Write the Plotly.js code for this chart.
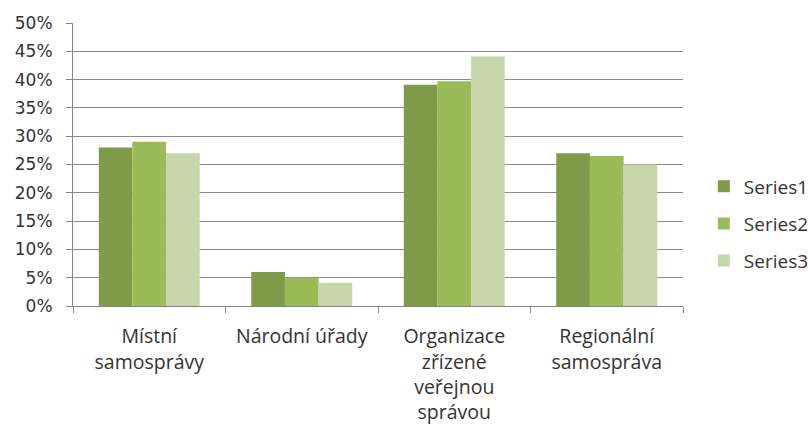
<!DOCTYPE html>
<html>
<head>
<meta charset="utf-8">
<script src="https://cdn.plot.ly/plotly-3.0.1.min.js"></script>
<style>html,body{margin:0;padding:0;background:#fff;}#chart{width:809px;height:424px;}</style>
</head>
<body>
<div id="chart"></div>
<script>
var categories = ["Místní<br>samosprávy", "Národní úřady", "Organizace<br>zřízené<br>veřejnou<br>správou", "Regionální<br>samospráva"];
var series1 = [0.28, 0.06, 0.391, 0.27];
var series2 = [0.29, 0.05, 0.397, 0.265];
var series3 = [0.27, 0.041, 0.441, 0.25];
var seriesNames = ["Series1", "Series2", "Series3"];
var colors = ["#7f9a48", "#9bbb59", "#c7d6aa"];
var yTickVals = [0, 0.05, 0.1, 0.15, 0.2, 0.25, 0.3, 0.35, 0.4, 0.45, 0.5];
var yTickText = ["0%", "5%", "10%", "15%", "20%", "25%", "30%", "35%", "40%", "45%", "50%"];

var allSeries = [series1, series2, series3];
var data = allSeries.map(function (vals, i) {
  return {
    type: "bar",
    x: categories,
    y: vals,
    name: seriesNames[i],
    legendgroup: "g" + i,
    marker: { color: colors[i], line: { width: 0 } },
    hoverinfo: "none"
  };
});

var layout = {
  width: 809,
  height: 424,
  margin: { l: 73, r: 126, t: 23, b: 118 },
  paper_bgcolor: "#ffffff",
  plot_bgcolor: "#ffffff",
  barmode: "group",
  bargap: 0.338,
  bargroupgap: 0,
  font: { family: "Open Sans, sans-serif", color: "#333333", size: 19 },
  xaxis: {
    type: "category",
    tickson: "boundaries",
    ticks: "outside",
    ticklen: 6,
    tickcolor: "#868686",
    showline: true,
    linecolor: "#868686",
    linewidth: 1,
    showgrid: false,
    zeroline: false,
    tickfont: { family: "Open Sans, sans-serif", size: 19.5, color: "#333333" },
    ticklabelstandoff: 13,
    fixedrange: true
  },
  yaxis: {
    range: [0, 0.5],
    tickvals: yTickVals,
    ticktext: yTickText,
    ticks: "outside",
    ticklen: 6,
    tickcolor: "#868686",
    showline: true,
    linecolor: "#868686",
    linewidth: 1,
    showgrid: true,
    gridcolor: "#8c8c8c",
    gridwidth: 1,
    zeroline: false,
    tickfont: { family: "DejaVu Sans, sans-serif", size: 17, color: "#333333" },
    ticklabelstandoff: 10,
    fixedrange: true
  },
  showlegend: true,
  legend: {
    xref: "container",
    yref: "container",
    x: 0.870,
    y: 0.472,
    xanchor: "left",
    yanchor: "middle",
    traceorder: "grouped",
    tracegroupgap: 9.5,
    font: { family: "Open Sans, sans-serif", size: 19, color: "#333333" },
    bgcolor: "rgba(0,0,0,0)"
  }
};

Plotly.newPlot("chart", data, layout, { staticPlot: true, displayModeBar: false });
</script>
</body>
</html>
